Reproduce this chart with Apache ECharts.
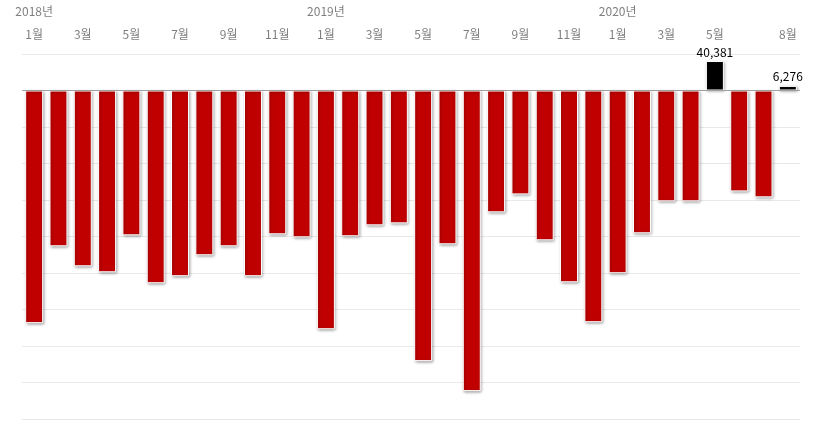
<!DOCTYPE html>
<html>
<head>
<meta charset="utf-8">
<script src="https://cdn.jsdelivr.net/npm/echarts@6/dist/echarts.min.js"></script>
<style>
  html, body { margin: 0; padding: 0; background: #fff; }
  #chart { width: 822px; height: 428px; }
</style>
</head>
<body>
<div id="chart"></div>
<script>
// 월 라벨 (2018년 1월 ~ 2020년 8월)
const months = [
  '1월', '2월', '3월', '4월', '5월', '6월', '7월', '8월', '9월', '10월', '11월', '12월',
  '1월', '2월', '3월', '4월', '5월', '6월', '7월', '8월', '9월', '10월', '11월', '12월',
  '1월', '2월', '3월', '4월', '5월', '6월', '7월', '8월'
]
const years = ['2018년', '2019년', '2020년']

// 월별 값
const values = [
  -318700, -213400, -240800, -249000, -198400, -264000, -254400, -225700, -213400, -254400, -197000, -201100,
  -327000, -199700, -184700, -182000, -370700, -210700, -411800, -166900, -142300, -205200, -262700, -317400,
  -250300, -195600, -151800, -151800, 40381, -138200, -146400, 6276
]

const chart = echarts.init(document.getElementById('chart'))

const labelColor = '#7f7f7f'
const font = '"Noto Sans CJK KR", "Noto Sans", sans-serif'

chart.setOption({
  animation: false,
  grid: { left: 22, right: 22, top: 54, height: 365 },
  xAxis: [
    {
      type: 'category',
      data: months,
      position: 'top',
      axisLine: { show: false, onZero: false },
      axisTick: { show: false },
      axisLabel: {
        color: labelColor,
        fontFamily: font,
        fontSize: 12,
        margin: 14,
        interval: (i) => (i % 2 === 0 && i <= 28) || i === 31
      }
    },
    {
      type: 'category',
      data: months,
      position: 'top',
      offset: 23,
      axisLine: { show: false, onZero: false },
      axisTick: { show: false },
      axisLabel: {
        color: labelColor,
        fontFamily: font,
        fontSize: 12,
        margin: 14,
        interval: (i) => i % 12 === 0,
        formatter: (v, i) => years[Math.floor(i / 12)]
      }
    }
  ],
  yAxis: {
    type: 'value',
    min: -450000,
    max: 50000,
    interval: 50000,
    axisLine: { show: false },
    axisTick: { show: false },
    axisLabel: { show: false },
    splitLine: { lineStyle: { color: '#e9e9e9' } }
  },
  series: [
    {
      type: 'bar',
      data: values,
      barCategoryGap: '26%',
      itemStyle: {
        color: (p) => (p.value >= 0 ? '#000000' : '#c00000'),
        borderColor: '#ffffff',
        borderWidth: 1,
        shadowColor: 'rgba(0, 0, 0, 0.35)',
        shadowBlur: 3,
        shadowOffsetX: 1,
        shadowOffsetY: 1
      },
      label: {
        show: true,
        position: 'top',
        distance: 3,
        color: '#000',
        fontFamily: font,
        fontSize: 12,
        formatter: (p) => (p.value > 0 ? p.value.toLocaleString('en-US') : '')
      },
      markLine: {
        silent: true,
        symbol: 'none',
        label: { show: false },
        lineStyle: { color: '#a0a0a0', type: 'solid', width: 1 },
        data: [{ yAxis: 0 }]
      }
    }
  ]
})
</script>
</body>
</html>
